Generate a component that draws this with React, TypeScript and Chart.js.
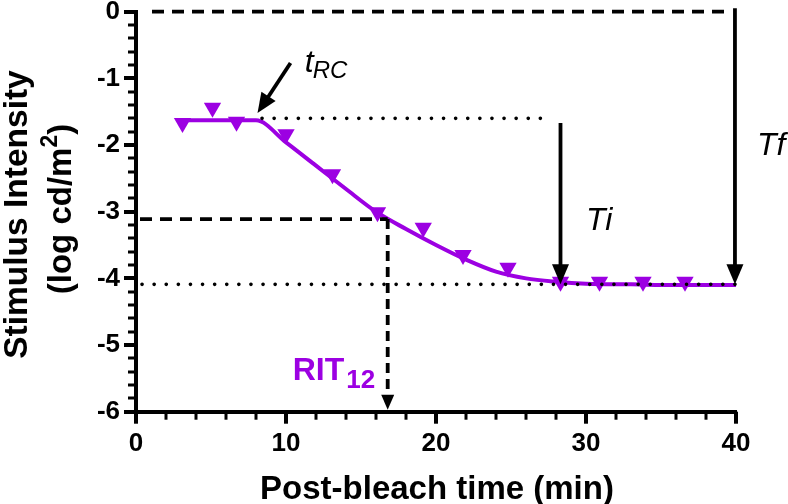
import React, { useEffect, useRef } from 'react';
import { Chart, registerables } from 'chart.js';

Chart.register(...registerables);

// ---- data ----
const curveTimes = [3, 8, 10, 12, 14, 16, 18, 20, 22, 24, 26, 28, 30, 33, 36, 40];
const curveValues = [-1.63, -1.63, -1.96, -2.31, -2.66, -3.0, -3.26, -3.5, -3.72, -3.9, -4.0, -4.05, -4.08, -4.09, -4.1, -4.1];

const pointTimes = [3.1, 5.1, 6.7, 10.0, 13.1, 16.1, 19.15, 21.8, 24.8, 28.3, 30.9, 33.8, 36.6];
const pointValues = [-1.67, -1.44, -1.65, -1.84, -2.44, -3.01, -3.24, -3.65, -3.84, -4.05, -4.05, -4.05, -4.05];

const xMin = 0;
const xMax = 40;
const xMajorStep = 10;
const xMinorStep = 2;
const yMin = -6;
const yMax = 0;
const yMajorStep = 1;
const yMinorStep = 0.2;

// annotation values (data units)
const initialLevel = -1.6;
const finalLevel = -4.09;
const darkLevel = 0;
const tRcTail = [10.3, -0.77];
const tRcTip = [8.1, -1.52];
const initialLineStart = 8.4;
const initialLineEnd = 27.7;
const ritTime = 16.78;
const ritValue = -3.11;
const tiTime = 28.3;
const tiTop = -1.67;
const tfTime = 39.93;
const tfTop = 0.05;

const labelTi = [30.0, -3.27];
const labelTf = [41.4, -2.15];
const labelTrc = [11.25, -0.9];
const labelRit = [10.45, -5.52];

const PURPLE = '#9c00e2';
const FONT = "'Liberation Sans', Arial, Helvetica, sans-serif";

function line(ctx: CanvasRenderingContext2D, x1: number, y1: number, x2: number, y2: number, width: number, dash: number[], cap: CanvasLineCap = 'butt') {
  ctx.save();
  ctx.strokeStyle = '#000';
  ctx.lineWidth = width;
  ctx.setLineDash(dash);
  ctx.lineCap = cap;
  ctx.beginPath();
  ctx.moveTo(x1, y1);
  ctx.lineTo(x2, y2);
  ctx.stroke();
  ctx.restore();
}

function arrow(ctx: CanvasRenderingContext2D, x1: number, y1: number, x2: number, y2: number, width: number, dash: number[], headLen: number, headHalf: number) {
  const ang = Math.atan2(y2 - y1, x2 - x1);
  const bx = x2 - headLen * Math.cos(ang);
  const by = y2 - headLen * Math.sin(ang);
  line(ctx, x1, y1, bx + Math.cos(ang), by + Math.sin(ang), width, dash);
  ctx.save();
  ctx.fillStyle = '#000';
  ctx.beginPath();
  ctx.moveTo(x2, y2);
  ctx.lineTo(bx + headHalf * Math.sin(ang), by - headHalf * Math.cos(ang));
  ctx.lineTo(bx - headHalf * Math.sin(ang), by + headHalf * Math.cos(ang));
  ctx.closePath();
  ctx.fill();
  ctx.restore();
}

const decorPlugin = {
  id: 'decor',
  afterDatasetsDraw(chart: any) {
    const ctx: CanvasRenderingContext2D = chart.ctx;
    const xs = chart.scales.x;
    const ys = chart.scales.y;
    const X = (v: number) => xs.getPixelForValue(v);
    const Y = (v: number) => ys.getPixelForValue(v);
    const dotted = [0.1, 12];
    const dashed = [12, 8];

    // horizontal reference lines
    line(ctx, X(xMin) + 16, Y(darkLevel), X(tfTime) - 8, Y(darkLevel), 3.8, dashed);
    line(ctx, X(initialLineStart), Y(initialLevel), X(initialLineEnd), Y(initialLevel), 3.6, dotted, 'round');
    line(ctx, X(xMin) + 6, Y(finalLevel), X(xMax), Y(finalLevel), 3.6, dotted, 'round');

    // RIT12 construction
    line(ctx, X(xMin) + 4, Y(ritValue), X(ritTime), Y(ritValue), 3.8, dashed);
    arrow(ctx, X(ritTime), Y(ritValue), X(ritTime), Y(yMin) - 2, 3.8, [10, 6], 15, 6.5);

    // Ti and Tf arrows
    arrow(ctx, X(tiTime), Y(tiTop), X(tiTime), Y(finalLevel), 3.8, [], 20, 8.5);
    arrow(ctx, X(tfTime), Y(tfTop), X(tfTime), Y(finalLevel), 3.8, [], 20, 8.5);

    // tRC arrow
    arrow(ctx, X(tRcTail[0]), Y(tRcTail[1]), X(tRcTip[0]), Y(tRcTip[1]), 3.8, [], 20, 8.5);

    // text labels
    ctx.save();
    ctx.fillStyle = '#000';
    ctx.textBaseline = 'alphabetic';
    ctx.textAlign = 'left';
    ctx.font = `italic 32px ${FONT}`;
    ctx.fillText('Ti', X(labelTi[0]), Y(labelTi[1]));
    ctx.fillText('Tf', X(labelTf[0]), Y(labelTf[1]));
    const tx = X(labelTrc[0]);
    const ty = Y(labelTrc[1]);
    ctx.fillText('t', tx, ty);
    const tw = ctx.measureText('t').width;
    ctx.font = `italic 24px ${FONT}`;
    ctx.fillText('RC', tx + tw - 1, ty + 6);

    ctx.fillStyle = PURPLE;
    ctx.font = `bold 32px ${FONT}`;
    const rx = X(labelRit[0]);
    const ry = Y(labelRit[1]);
    ctx.fillText('RIT', rx, ry);
    const rw = ctx.measureText('RIT').width;
    ctx.font = `bold 26px ${FONT}`;
    ctx.fillText('12', rx + rw + 2, ry + 8);
    ctx.restore();
  },
  afterDraw(chart: any) {
    const ctx: CanvasRenderingContext2D = chart.ctx;
    const xs = chart.scales.x;
    const ys = chart.scales.y;
    const area = chart.chartArea;
    ctx.save();
    ctx.fillStyle = '#000';
    // y ticks
    const ny = Math.round((yMax - yMin) / yMinorStep);
    for (let i = 0; i <= ny; i++) {
      const v = yMin + i * yMinorStep;
      const major = i % Math.round(yMajorStep / yMinorStep) === 0;
      const py = Math.round(ys.getPixelForValue(v));
      const len = major ? 12 : 8;
      const th = major ? 4 : 3;
      ctx.fillRect(area.left - len, py - th / 2, len, th);
    }
    // x ticks
    const nx = Math.round((xMax - xMin) / xMinorStep);
    for (let i = 0; i <= nx; i++) {
      const v = xMin + i * xMinorStep;
      const major = i % Math.round(xMajorStep / xMinorStep) === 0;
      const px = Math.round(xs.getPixelForValue(v));
      const len = major ? 12 : 8;
      const th = major ? 4 : 3;
      ctx.fillRect(px - th / 2, area.bottom, th, len);
    }

    // axis titles
    ctx.font = `bold 33px ${FONT}`;
    ctx.textAlign = 'center';
    ctx.textBaseline = 'alphabetic';
    ctx.fillText('Post-bleach time (min)', (area.left + area.right) / 2 + 1, 499);

    ctx.save();
    ctx.translate(27, 214.5);
    ctx.rotate(-Math.PI / 2);
    ctx.font = `bold 33.5px ${FONT}`;
    ctx.fillText('Stimulus Intensity', 0, 0);
    ctx.restore();

    ctx.save();
    ctx.translate(71, 209);
    ctx.rotate(-Math.PI / 2);
    ctx.textAlign = 'left';
    ctx.font = `bold 33px ${FONT}`;
    const p1 = '(log cd/m';
    const w1 = ctx.measureText(p1).width;
    ctx.font = `bold 23px ${FONT}`;
    const w2 = ctx.measureText('2').width;
    ctx.font = `bold 33px ${FONT}`;
    const w3 = ctx.measureText(')').width;
    const total = w1 + w2 + w3;
    let cx = -total / 2;
    ctx.fillText(p1, cx, 0);
    cx += w1;
    ctx.font = `bold 23px ${FONT}`;
    ctx.fillText('2', cx, -14);
    cx += w2;
    ctx.font = `bold 33px ${FONT}`;
    ctx.fillText(')', cx, 0);
    ctx.restore();

    ctx.restore();
  },
};

export default function App() {
  const ref = useRef<HTMLCanvasElement | null>(null);
  useEffect(() => {
    if (!ref.current) return;
    const chart = new Chart(ref.current, {
      type: 'scatter',
      data: {
        datasets: [
          {
            data: curveTimes.map((t, i) => ({ x: t, y: curveValues[i] })),
            showLine: true,
            borderColor: PURPLE,
            borderWidth: 4,
            pointRadius: 0,
            cubicInterpolationMode: 'monotone',
            fill: false,
          } as any,
          {
            data: pointTimes.map((t, i) => ({ x: t, y: pointValues[i] })),
            showLine: false,
            pointStyle: 'triangle',
            rotation: 180,
            pointRadius: 10,
            backgroundColor: PURPLE,
            borderColor: PURPLE,
            borderWidth: 0,
          } as any,
        ],
      },
      options: {
        animation: false,
        responsive: true,
        maintainAspectRatio: false,
        layout: { padding: { left: 0, top: 11.7, right: 52, bottom: 0 } },
        plugins: { legend: { display: false }, tooltip: { enabled: false } },
        scales: {
          x: {
            type: 'linear',
            min: xMin,
            max: xMax,
            ticks: {
              stepSize: xMajorStep,
              color: '#000',
              font: { family: FONT, size: 26, weight: 'bold' },
              padding: 17,
              maxRotation: 0,
            },
            grid: { display: false, drawTicks: false },
            border: { display: true, color: '#000', width: 4 },
            afterFit(s: any) {
              s.height = 92.3;
              s.paddingLeft = 0;
              s.paddingRight = 0;
            },
          },
          y: {
            type: 'linear',
            min: yMin,
            max: yMax,
            ticks: {
              stepSize: yMajorStep,
              color: '#000',
              font: { family: FONT, size: 26, weight: 'bold' },
              padding: 16,
            },
            grid: { display: false, drawTicks: false },
            border: { display: true, color: '#000', width: 4 },
            afterFit(s: any) {
              s.width = 136;
              s.paddingTop = 0;
              s.paddingBottom = 0;
            },
          },
        },
      } as any,
      plugins: [decorPlugin],
    });
    return () => chart.destroy();
  }, []);
  return (
    <div style={{ position: 'fixed', left: 0, top: 0, width: 788, height: 504, background: '#fff' }}>
      <canvas ref={ref} />
    </div>
  );
}
